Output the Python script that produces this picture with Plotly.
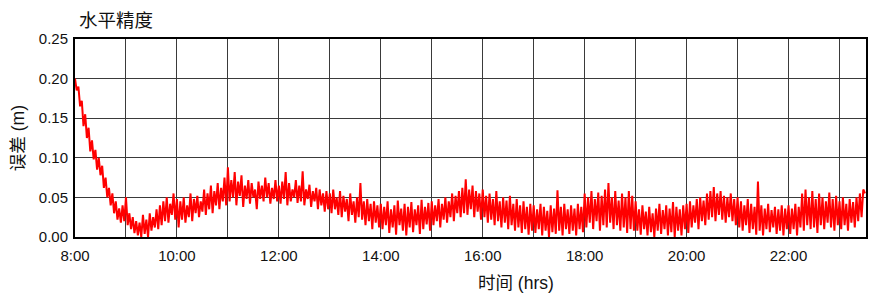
import plotly.graph_objects as go

# Horizontal accuracy samples, one every 2 minutes starting 8:00 (metres)
start_hour = 8.0
step_minutes = 2
err_h08 = [0.200,0.185,0.190,0.165,0.172,0.140,0.155,0.125,0.138,0.108,0.122,0.098,0.110,0.085,0.100,0.078,0.090,0.062,0.075,0.050,0.062,0.040,0.055,0.030,0.045,0.022,0.036,0.018,0.040,0.020]
err_h09 = [0.050,0.015,0.030,0.010,0.025,0.005,0.020,0.002,0.018,0.000,0.028,0.004,0.022,0.000,0.030,0.008,0.025,0.012,0.035,0.010,0.040,0.015,0.045,0.020,0.050,0.018,0.042,0.028,0.055,0.022]
err_h10 = [0.048,0.012,0.045,0.022,0.050,0.018,0.040,0.025,0.055,0.020,0.048,0.030,0.052,0.025,0.045,0.032,0.060,0.028,0.055,0.035,0.065,0.030,0.058,0.040,0.068,0.035,0.062,0.045,0.075,0.040]
err_h11 = [0.088,0.045,0.072,0.050,0.082,0.040,0.070,0.052,0.078,0.038,0.065,0.048,0.072,0.042,0.068,0.050,0.060,0.035,0.070,0.048,0.065,0.045,0.075,0.050,0.068,0.042,0.062,0.048,0.072,0.045]
err_h12 = [0.065,0.042,0.070,0.048,0.082,0.040,0.068,0.045,0.060,0.050,0.072,0.043,0.065,0.045,0.083,0.040,0.060,0.048,0.066,0.038,0.058,0.045,0.062,0.035,0.060,0.040,0.055,0.032,0.058,0.035]
err_h13 = [0.055,0.030,0.060,0.035,0.050,0.028,0.058,0.025,0.052,0.032,0.048,0.020,0.055,0.028,0.045,0.018,0.050,0.025,0.068,0.022,0.045,0.015,0.048,0.020,0.042,0.010,0.045,0.018,0.040,0.012]
err_h14 = [0.042,0.010,0.038,0.015,0.045,0.005,0.035,0.012,0.040,0.003,0.046,0.015,0.036,0.008,0.042,0.002,0.038,0.012,0.044,0.006,0.035,0.015,0.040,0.004,0.047,0.010,0.038,0.016,0.043,0.008]
err_h15 = [0.045,0.015,0.040,0.020,0.048,0.012,0.042,0.022,0.050,0.018,0.045,0.025,0.055,0.020,0.052,0.030,0.058,0.025,0.062,0.030,0.073,0.028,0.060,0.035,0.065,0.025,0.058,0.032,0.055,0.022]
err_h16 = [0.060,0.025,0.052,0.018,0.055,0.022,0.048,0.015,0.058,0.020,0.045,0.012,0.050,0.018,0.046,0.010,0.052,0.015,0.042,0.008,0.048,0.012,0.040,0.005,0.045,0.010,0.038,0.003,0.042,0.008]
err_h17 = [0.040,0.005,0.035,0.010,0.042,0.002,0.038,0.008,0.033,0.000,0.040,0.006,0.036,0.004,0.059,0.008,0.038,0.002,0.042,0.010,0.035,0.004,0.040,0.008,0.036,0.002,0.042,0.010,0.038,0.006]
err_h18 = [0.055,0.012,0.050,0.018,0.058,0.010,0.048,0.020,0.056,0.008,0.052,0.015,0.060,0.012,0.068,0.018,0.050,0.010,0.058,0.015,0.046,0.008,0.055,0.012,0.050,0.005,0.058,0.010,0.052,0.008]
err_h19 = [0.045,0.008,0.035,0.003,0.040,0.010,0.032,0.002,0.038,0.006,0.030,0.000,0.036,0.008,0.042,0.004,0.034,0.010,0.040,0.002,0.036,0.006,0.044,0.000,0.038,0.008,0.035,0.002,0.040,0.010]
err_h20 = [0.042,0.005,0.045,0.012,0.040,0.018,0.048,0.010,0.050,0.020,0.046,0.015,0.055,0.022,0.058,0.025,0.063,0.020,0.055,0.028,0.058,0.022,0.052,0.018,0.050,0.025,0.055,0.020,0.048,0.015]
err_h21 = [0.050,0.012,0.045,0.008,0.040,0.015,0.048,0.005,0.042,0.010,0.038,0.003,0.070,0.008,0.040,0.002,0.036,0.010,0.042,0.006,0.034,0.012,0.038,0.004,0.035,0.008,0.040,0.002,0.036,0.010]
err_h22 = [0.040,0.004,0.036,0.010,0.042,0.002,0.038,0.012,0.055,0.008,0.060,0.015,0.050,0.010,0.058,0.012,0.048,0.005,0.055,0.015,0.050,0.010,0.045,0.018,0.056,0.012,0.048,0.008,0.052,0.015]
err_h23 = [0.045,0.010,0.050,0.015,0.042,0.008,0.048,0.018,0.044,0.012,0.050,0.020,0.055,0.025,0.060,0.055]

errors = (err_h08 + err_h09 + err_h10 + err_h11 + err_h12 + err_h13 + err_h14 + err_h15
          + err_h16 + err_h17 + err_h18 + err_h19 + err_h20 + err_h21 + err_h22 + err_h23)
hours = [start_hour + i * step_minutes / 60 for i in range(len(errors))]

x_tick_vals = list(range(8, 24))
x_tick_text = ["8:00", "", "10:00", "", "12:00", "", "14:00", "", "16:00", "", "18:00", "", "20:00", "", "22:00", ""]
y_tick_vals = [0.00, 0.05, 0.10, 0.15, 0.20, 0.25]
y_tick_text = ["0.00", "0.05", "0.10", "0.15", "0.20", "0.25"]

title_text = "水平精度"
x_title = "时间 (hrs)"
y_title = "误差 (m)"

FONT = "Liberation Sans, Arial, Noto Sans CJK SC, sans-serif"

fig = go.Figure()
fig.add_trace(go.Scatter(x=hours, y=errors, mode="lines",
                         line=dict(color="#ff0000", width=2), hoverinfo="skip"))

fig.update_layout(
    width=880, height=298,
    margin=dict(l=75, r=12, t=39, b=61),
    paper_bgcolor="white", plot_bgcolor="white",
    showlegend=False,
    font=dict(family=FONT, size=15, color="#111111"),
    xaxis=dict(range=[8, 23.52], tickmode="array", tickvals=x_tick_vals, ticktext=x_tick_text,
               showgrid=True, gridcolor="#3a3a3a", gridwidth=1.3,
               showline=True, linecolor="black", linewidth=2, mirror=True,
               ticks="", zeroline=False, tickfont=dict(size=15), ticklabelstandoff=4),
    yaxis=dict(range=[0, 0.25], tickmode="array", tickvals=y_tick_vals, ticktext=y_tick_text,
               showgrid=True, gridcolor="#3a3a3a", gridwidth=1.3,
               showline=True, linecolor="black", linewidth=2, mirror=True,
               ticks="", zeroline=False, tickfont=dict(size=15), ticklabelstandoff=2),
    annotations=[
        dict(text=title_text, xref="paper", yref="paper", x=0.0025, y=1.101,
             xanchor="left", yanchor="middle", showarrow=False,
             font=dict(family="Noto Sans CJK SC", size=18.5, color="#111111")),
        dict(text=x_title, xref="paper", yref="paper", x=0.557, y=-0.232,
             xanchor="center", yanchor="middle", showarrow=False,
             font=dict(family=FONT, size=17.5, color="#111111")),
        dict(text=y_title, xref="paper", yref="paper", x=-0.0719, y=0.5,
             xanchor="center", yanchor="middle", showarrow=False, textangle=-90,
             font=dict(family=FONT, size=17.5, color="#111111")),
    ],
)

fig.write_html("out.html")
